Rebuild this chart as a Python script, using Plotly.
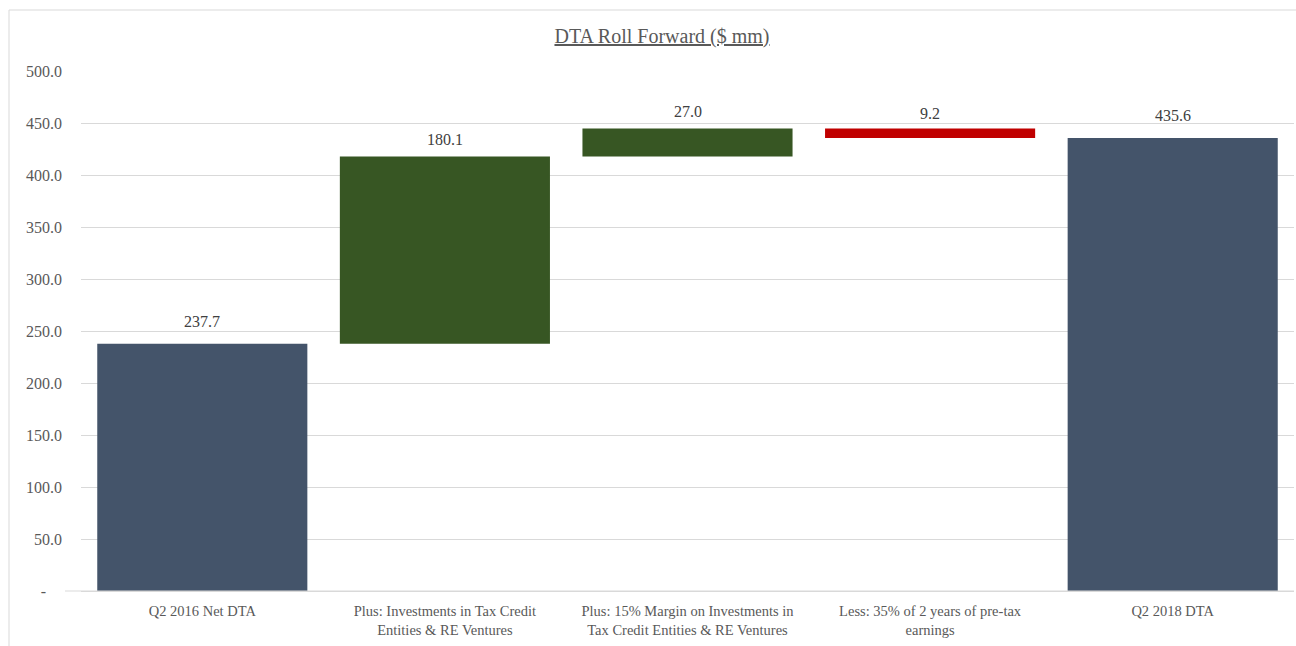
import plotly.graph_objects as go

categories = [
    "Q2 2016 Net DTA",
    "Plus: Investments in Tax Credit<br>Entities & RE Ventures",
    "Plus: 15% Margin on Investments in<br>Tax Credit Entities & RE Ventures",
    "Less: 35% of 2 years of pre-tax<br>earnings",
    "Q2 2018 DTA",
]
steps = [237.7, 180.1, 27.0, -9.2, 435.6]
kinds = ["total", "increase", "increase", "decrease", "total"]
tick_vals = [0, 50, 100, 150, 200, 250, 300, 350, 400, 450, 500]
tick_text = ["-\u00a0\u00a0\u00a0\u00a0"] + [f"{v:.1f}" for v in tick_vals[1:]]

colors = {"total": "#44546A", "increase": "#375623", "decrease": "#C00000"}
label_shift = {"total": 12, "increase": 6, "decrease": 4}

bases, heights, cols, labels, tops = [], [], [], [], []
running = 0.0
for v, k in zip(steps, kinds):
    if k == "total":
        bases.append(0)
        heights.append(v)
        running = v
    elif k == "increase":
        bases.append(running)
        heights.append(v)
        running += v
    else:
        running += v
        bases.append(running)
        heights.append(-v)
    tops.append(bases[-1] + heights[-1])
    cols.append(colors[k])
    labels.append(f"{abs(v):.1f}")

font_family = "Liberation Serif, DejaVu Serif, serif"

fig = go.Figure(
    go.Bar(
        x=categories,
        y=heights,
        base=bases,
        marker=dict(color=cols, line=dict(width=0)),
        hoverinfo="skip",
    )
)

annotations = [
    dict(
        x=c,
        y=t,
        xref="x",
        yref="y",
        text=lab,
        showarrow=False,
        yanchor="bottom",
        yshift=label_shift[k],
        font=dict(family=font_family, size=16, color="#404040"),
    )
    for c, t, lab, k in zip(categories, tops, labels, kinds)
]

fig.update_layout(
    width=1296,
    height=646,
    margin=dict(l=81, r=2, t=71, b=55),
    paper_bgcolor="white",
    plot_bgcolor="white",
    bargap=0.134,
    showlegend=False,
    font=dict(family=font_family, size=14.5, color="#595959"),
    annotations=annotations,
    title=dict(
        text="<u>DTA Roll Forward ($ mm)</u>",
        x=662 / 1296,
        xref="container",
        y=1 - 36 / 646,
        yanchor="middle",
        xanchor="center",
        font=dict(family=font_family, size=20, color="#595959"),
    ),
    yaxis=dict(
        range=[0, 500],
        tickvals=tick_vals,
        ticktext=tick_text,
        showgrid=True,
        gridcolor="#D9D9D9",
        gridwidth=1,
        zeroline=False,
        showline=False,
        ticks="",
        ticklabelstandoff=18,
        tickfont=dict(family=font_family, size=16, color="#595959"),
    ),
    xaxis=dict(
        showline=True,
        linecolor="#D9D9D9",
        linewidth=1,
        ticks="",
        tickangle=0,
        ticklabelstandoff=7,
        tickfont=dict(family=font_family, size=14.5, color="#595959"),
    ),
    shapes=[
        dict(
            type="rect",
            xref="paper",
            yref="paper",
            x0=(9 - 81) / 1213,
            x1=(1300 - 81) / 1213,
            y0=-0.2,
            y1=(591 - 10) / 520,
            line=dict(color="#D9D9D9", width=1),
            fillcolor="rgba(0,0,0,0)",
            layer="below",
        ),
        dict(
            type="line",
            xref="paper",
            yref="paper",
            x0=(65 - 81) / 1213,
            x1=1,
            y0=0,
            y1=0,
            line=dict(color="#D9D9D9", width=1),
        ),
    ],
)

fig.write_html("out.html")
